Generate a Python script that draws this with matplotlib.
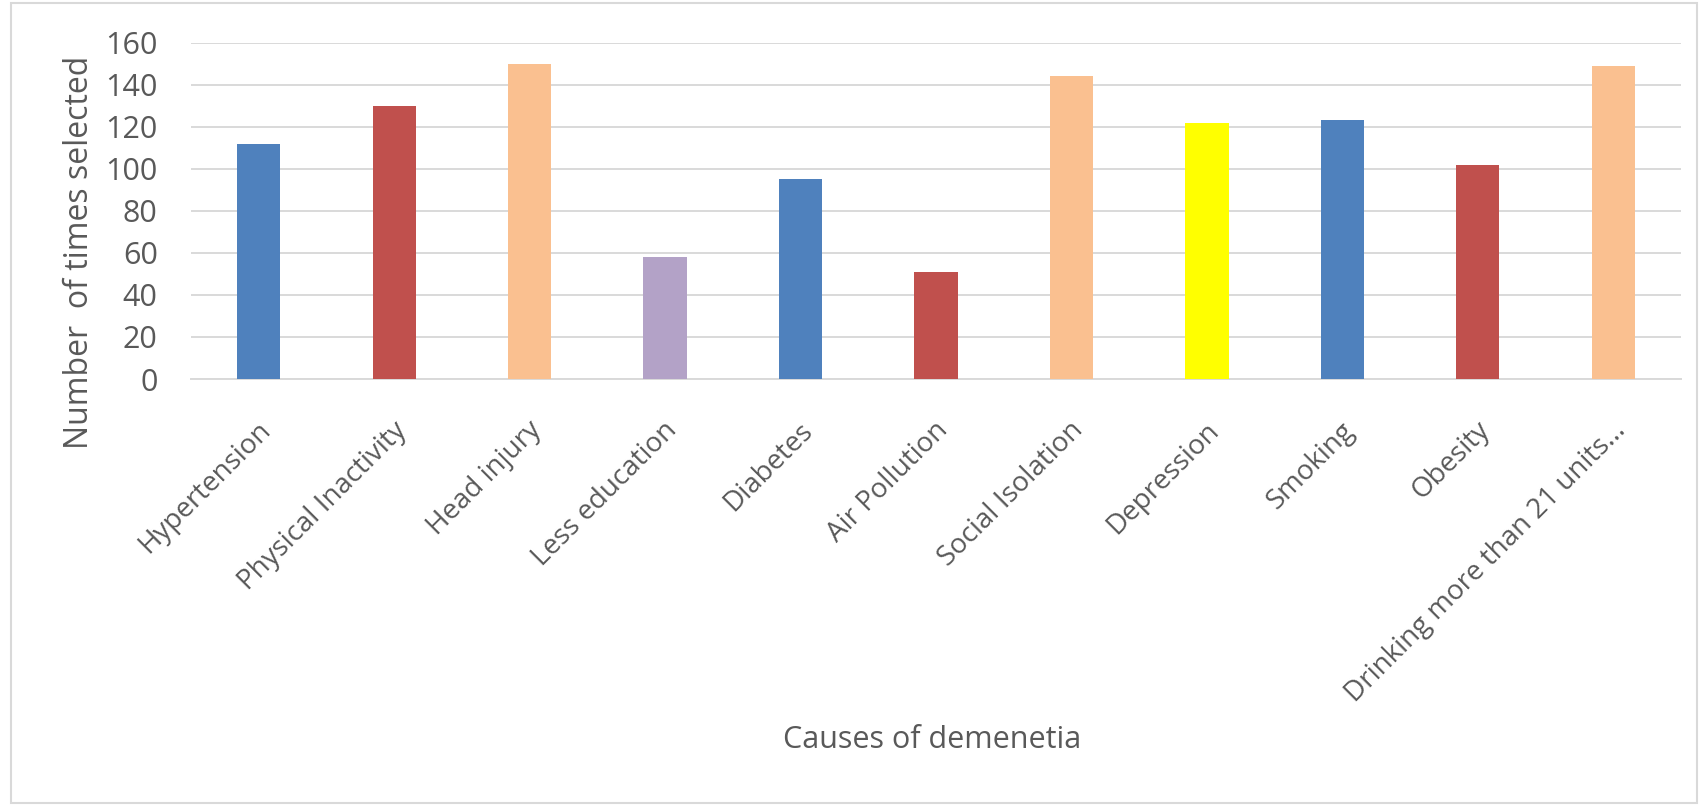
import matplotlib
matplotlib.use("Agg")
import matplotlib.pyplot as plt
from matplotlib.patches import Rectangle
from matplotlib.transforms import ScaledTranslation

plt.rcParams['font.family'] = ['Open Sans', 'DejaVu Sans']

# survey counts per cause
causes = ["Hypertension", "Physical Inactivity", "Head injury", "Less education",
          "Diabetes", "Air Pollution", "Social Isolation", "Depression",
          "Smoking", "Obesity", "Drinking more than 21 units..."]
counts = [112, 130, 150, 58, 95, 51, 144, 122, 123, 102, 149]
bar_colors = ["#4F81BD", "#C0504D", "#FAC090", "#B3A2C7", "#4F81BD", "#C0504D",
              "#FAC090", "#FFFF00", "#4F81BD", "#C0504D", "#FAC090"]
yticks = list(range(0, 161, 20))

txt = "#595959"
grid = "#D9D9D9"

fig = plt.figure(figsize=(17, 8.05), dpi=100)
ax = fig.add_axes([191/1700, 1 - 379/805, 1490/1700, (379 - 42.7)/805])

x = range(len(causes))
ax.bar(x, counts, width=0.32, color=bar_colors, zorder=3)

ax.set_xlim(-0.5, len(causes) - 0.5)
ax.set_ylim(0, 160)
ax.set_yticks(yticks)
ax.set_yticklabels([str(v) for v in yticks])
ax.yaxis.grid(True, color=grid, linewidth=1.4, zorder=0)
for s in ["top", "right", "left"]:
    ax.spines[s].set_visible(False)
ax.spines["bottom"].set_color(grid)
ax.spines["bottom"].set_linewidth(1.4)

ax.tick_params(axis="y", length=0, pad=24, labelsize=22, labelcolor=txt)
ax.tick_params(axis="x", length=0, pad=34, labelsize=20, labelcolor=txt)
ax.set_xticks(list(x))
ax.set_xticklabels(causes, rotation=45, ha="right", va="center", rotation_mode="anchor")
shift = ScaledTranslation(0.08, 0, fig.dpi_scale_trans)
for lbl in ax.get_xticklabels():
    lbl.set_transform(lbl.get_transform() + shift)

ax.set_ylabel("Number  of times selected", fontsize=23, color=txt)
ax.yaxis.set_label_coords(-0.0745, 0.376)
ax.yaxis.label.set_va("center")
ax.set_xlabel("Causes of demenetia", fontsize=22, color=txt)
ax.xaxis.set_label_coords(0.4975, (379 - 740) / 336)
ax.xaxis.label.set_va("center")

# light frame round the whole chart
fig.patches.append(Rectangle((11/1700, 2/805), 1686/1700, 800/805, transform=fig.transFigure,
                             fill=False, edgecolor="#D9D9D9", linewidth=1.5))

fig.savefig("out.png", dpi=100)
